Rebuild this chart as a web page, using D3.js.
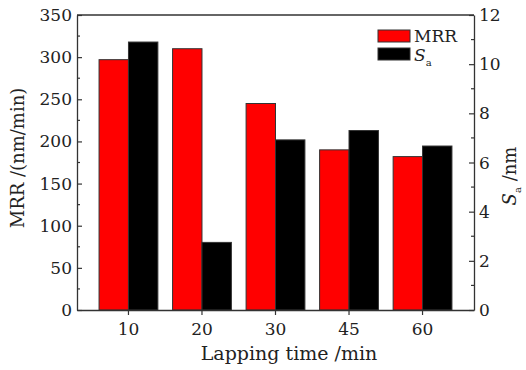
<!DOCTYPE html>
<html>
<head>
<meta charset="utf-8">
<script src="https://cdn.jsdelivr.net/npm/d3@7"></script>
<style>
  body { margin: 0; background: #fff; }
  svg text { font-family: "DejaVu Serif", "Liberation Serif", serif; fill: #222; }
</style>
</head>
<body>
<div id="chart"></div>
<script>
const categories = ["10", "20", "30", "45", "60"];
const mrrValues = [297, 310, 245, 190, 182];
const saValues = [10.9, 2.75, 6.92, 7.3, 6.67];
const leftTicks = [0, 50, 100, 150, 200, 250, 300, 350];
const rightTicks = [0, 2, 4, 6, 8, 10, 12];

const width = 526, height = 370;
const margin = { top: 15, right: 52, bottom: 60, left: 77 };
const innerWidth = width - margin.left - margin.right;
const innerHeight = height - margin.top - margin.bottom;

const svg = d3.select("#chart")
  .append("svg")
  .attr("width", width)
  .attr("height", height);

const inner = svg.append("g")
  .attr("transform", `translate(${margin.left},${margin.top})`);

const xScale = d3.scaleBand().domain(categories).range([0, innerWidth])
  .paddingInner(0.2).paddingOuter(0.3);
const xSub = d3.scaleBand().domain(["mrr", "sa"]).range([0, xScale.bandwidth()]);
const yLeft = d3.scaleLinear().domain([0, 350]).range([innerHeight, 0]);
const yRight = d3.scaleLinear().domain([0, 12]).range([innerHeight, 0]);

// bars
const groups = inner.append("g").attr("class", "bars")
  .selectAll("g")
  .data(categories)
  .join("g")
    .attr("transform", d => `translate(${xScale(d)},0)`);

groups.append("rect")
  .attr("x", xSub("mrr"))
  .attr("y", (d, i) => yLeft(mrrValues[i]))
  .attr("width", xSub.bandwidth())
  .attr("height", (d, i) => innerHeight - yLeft(mrrValues[i]))
  .attr("fill", "#ff0000")
  .attr("stroke", "#333").attr("stroke-width", 1);

groups.append("rect")
  .attr("x", xSub("sa"))
  .attr("y", (d, i) => yRight(saValues[i]))
  .attr("width", xSub.bandwidth())
  .attr("height", (d, i) => innerHeight - yRight(saValues[i]))
  .attr("fill", "#000")
  .attr("stroke", "#333").attr("stroke-width", 1);

// axes (lines only, labels drawn below)
const styleAxis = g => {
  g.select(".domain").attr("stroke", "#333").attr("stroke-width", 1.3);
  g.selectAll(".tick line").attr("stroke", "#333").attr("stroke-width", 1.2);
  g.selectAll(".tick text").remove();
};

const xAxis = inner.append("g")
  .attr("transform", `translate(0,${innerHeight})`)
  .call(d3.axisBottom(xScale).tickSize(5).tickSizeOuter(0))
  .call(styleAxis);
// ticks sit at the boundary between the two bars
const xTickPos = d => xScale(d) + xSub("sa");
xAxis.selectAll(".tick").attr("transform", d => `translate(${xTickPos(d)},0)`);

inner.append("g")
  .call(d3.axisLeft(yLeft).tickValues(leftTicks).tickSize(-5).tickSizeOuter(0))
  .call(styleAxis);

inner.append("g")
  .attr("transform", `translate(${innerWidth},0)`)
  .call(d3.axisRight(yRight).tickValues(rightTicks).tickSize(-5).tickSizeOuter(0))
  .call(styleAxis);

// tick labels
const labels = svg.append("g").attr("font-size", 17);
labels.selectAll("text.xl")
  .data(categories)
  .join("text").attr("class", "xl")
    .attr("text-anchor", "middle")
    .attr("x", d => margin.left + xTickPos(d))
    .attr("y", margin.top + innerHeight + 25)
    .text(d => d);
labels.selectAll("text.yl")
  .data(leftTicks)
  .join("text").attr("class", "yl")
    .attr("text-anchor", "end")
    .attr("x", margin.left - 5)
    .attr("y", d => margin.top + yLeft(d) + 6)
    .text(d => d);
labels.selectAll("text.yr")
  .data(rightTicks)
  .join("text").attr("class", "yr")
    .attr("text-anchor", "start")
    .attr("x", margin.left + innerWidth + 5)
    .attr("y", d => margin.top + yRight(d) + 6)
    .text(d => d);

// minor ticks
inner.append("g").selectAll("line")
  .data(d3.range(25, 350, 50))
  .join("line")
    .attr("x1", 0).attr("x2", 3)
    .attr("y1", d => yLeft(d)).attr("y2", d => yLeft(d))
    .attr("stroke", "#333").attr("stroke-width", 1.2);
inner.append("g").selectAll("line")
  .data(d3.range(1, 12, 2))
  .join("line")
    .attr("x1", innerWidth).attr("x2", innerWidth - 3)
    .attr("y1", d => yRight(d)).attr("y2", d => yRight(d))
    .attr("stroke", "#333").attr("stroke-width", 1.2);

// top frame
inner.append("line")
  .attr("x1", 0).attr("x2", innerWidth).attr("y1", 0).attr("y2", 0)
  .attr("stroke", "#333").attr("stroke-width", 1.3);

// legend
const legend = inner.append("g").attr("transform", `translate(${378 - margin.left},${30 - margin.top})`);
legend.append("rect").attr("x", 0).attr("y", 0).attr("width", 32).attr("height", 12)
  .attr("fill", "#ff0000").attr("stroke", "#333");
legend.append("text").attr("x", 36).attr("y", 12).attr("font-size", 17).text("MRR");
legend.append("rect").attr("x", 0).attr("y", 18).attr("width", 32).attr("height", 12)
  .attr("fill", "#000").attr("stroke", "#333");
const saText = legend.append("text").attr("x", 36).attr("y", 31).attr("font-size", 17);
saText.append("tspan").attr("font-style", "italic").text("S");
saText.append("tspan").attr("font-size", 10).attr("dy", 5).text("a");

// axis labels
svg.append("text")
  .attr("text-anchor", "middle")
  .attr("transform", "translate(24,158) rotate(-90)")
  .attr("font-size", 18)
  .text("MRR /(nm/min)");

const rLabel = svg.append("text")
  .attr("text-anchor", "middle")
  .attr("transform", "translate(516,176) rotate(-90)")
  .attr("font-size", 18);
rLabel.append("tspan").attr("font-style", "italic").text("S");
rLabel.append("tspan").attr("font-size", 10).attr("dy", 5).text("a");
rLabel.append("tspan").attr("dy", -5).text(" /nm");

svg.append("text")
  .attr("text-anchor", "middle")
  .attr("x", 289).attr("y", 360)
  .attr("font-size", 19)
  .text("Lapping time /min");
</script>
</body>
</html>
